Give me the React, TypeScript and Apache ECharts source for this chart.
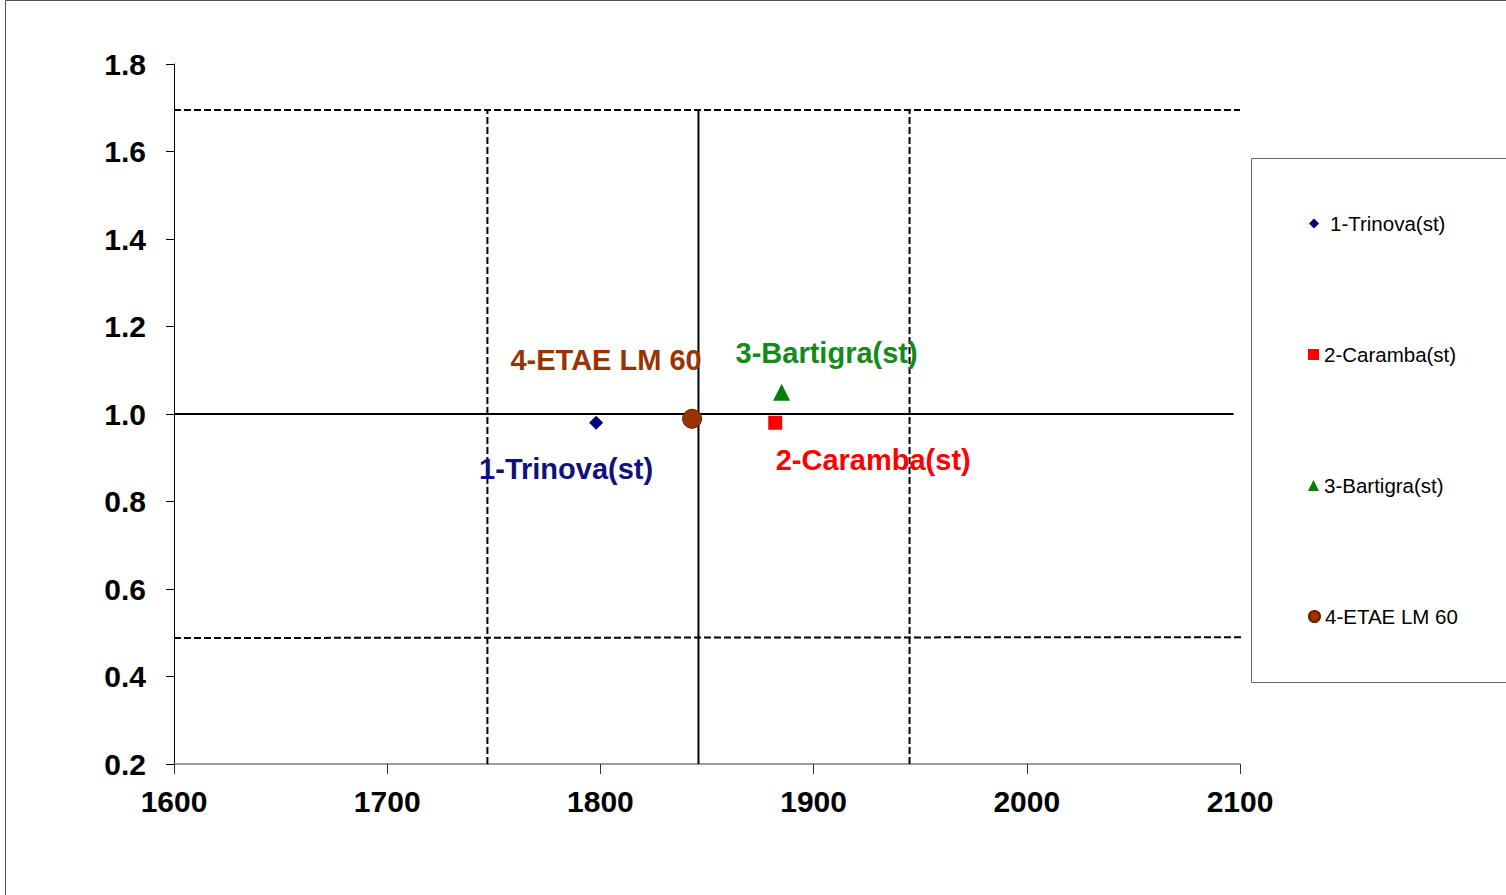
import React, { useEffect, useRef } from "react";
import * as echarts from "echarts";

const seriesNames = ["1-Trinova(st)", "2-Caramba(st)", "3-Bartigra(st)", "4-ETAE LM 60"];
const seriesX = [1798, 1882, 1885, 1843];
const seriesY = [0.98, 0.98, 1.05, 0.989];
const seriesColors = ["#000080", "#FF0000", "#008000", "#993300"];
const labelColors = ["#101080", "#FF0000", "#138a1a", "#993300"];
const seriesSymbols = ["diamond", "rect", "triangle", "circle"];

const xTicks = { min: 1600, max: 2100, interval: 100 };
const yTicks = { min: 0.2, max: 1.8, interval: 0.2 };

// reference lines: [x1, y1, x2, y2]
const refSolidH = [1600, 1.0, 2097, 1.0];
const refUpperH = [1600, 1.695, 2100, 1.695];
const refLowerH = [1600, 0.488, 2102, 0.49];
const refMeanV = [1846, 0.2, 1846, 1.695];
const refLeftV = [1747, 0.2, 1747, 1.695];
const refRightV = [1945, 0.2, 1945, 1.695];

export default function App() {
  const ref = useRef<HTMLDivElement>(null);
  useEffect(() => {
    document.body.style.margin = "0";
    document.body.style.overflow = "hidden";
    const chart = echarts.init(ref.current!, null, { renderer: "svg" });
    const font = "'Liberation Sans', Arial, sans-serif";
    const symbolSizes = [14, 14, 17, 19];
    const labelOffsets = [
      [-30, 46],
      [98, 37],
      [45, -39],
      [-86, -59],
    ];
    const pointSeries = seriesNames.map((name, i) => ({
      type: "scatter",
      name,
      symbol: seriesSymbols[i],
      symbolSize: symbolSizes[i],
      itemStyle: {
        color: seriesColors[i],
        opacity: 1,
        borderColor: i === 3 ? "#6b1d00" : seriesColors[i],
        borderWidth: i === 3 ? 1 : 0,
      },
      label: {
        show: true,
        position: "inside",
        formatter: name,
        offset: labelOffsets[i],
        color: labelColors[i],
        opacity: 1,
        fontFamily: font,
        fontWeight: "bold",
        fontSize: 29,
      },
      data: [[seriesX[i], seriesY[i]]],
      z: 5,
    }));
    const mkLine = (pts: number[], dashed: boolean) => ({
      type: "line",
      symbol: "none",
      silent: true,
      clip: false,
      lineStyle: { color: "#000", width: 2, type: dashed ? [7, 3] : "solid" },
      data: [
        [pts[0], pts[1]],
        [pts[2], pts[3]],
      ],
      z: 2,
    });
    const legendCenters = [224, 355, 486, 617];
    const legends = seriesNames.map((name, i) => ({
      data: [{ name, icon: seriesSymbols[i], itemStyle: { opacity: 1 } }],
      left: i === 0 ? 1309 : 1308,
      top: legendCenters[i] - 11,
      padding: 0,
      itemWidth: i === 0 ? 10 : 11,
      itemHeight: i === 0 ? 10 : 11,
      selectedMode: false,
      textStyle: {
        fontFamily: font,
        fontSize: 20.5,
        lineHeight: 20,
        color: "#000",
        padding: i === 0 ? [0, 0, 0, 6] : 0,
      },
    }));
    chart.setOption({
      animation: false,
      backgroundColor: "#fff",
      grid: { left: 174, top: 64, width: 1066, height: 700, containLabel: false },
      xAxis: {
        type: "value",
        min: xTicks.min,
        max: xTicks.max,
        interval: xTicks.interval,
        axisLine: { show: true, onZero: false, lineStyle: { color: "#7a7a7a", width: 1.5 } },
        axisTick: { show: true, length: 10, lineStyle: { color: "#333", width: 1 } },
        splitLine: { show: false },
        axisLabel: {
          margin: 22,
          color: "#000",
          fontFamily: font,
          fontWeight: "bold",
          fontSize: 30,
          formatter: (v: number) => String(v),
        },
      },
      yAxis: {
        type: "value",
        min: yTicks.min,
        max: yTicks.max,
        interval: yTicks.interval,
        axisLine: { show: true, onZero: false, lineStyle: { color: "#000", width: 1 } },
        axisTick: { show: true, length: 8, lineStyle: { color: "#000", width: 1 } },
        splitLine: { show: false },
        axisLabel: {
          margin: 28,
          color: "#000",
          fontFamily: font,
          fontWeight: "bold",
          fontSize: 30,
          padding: [0, 0, 6, 0],
          formatter: (v: number) => v.toFixed(1),
        },
      },
      legend: legends,
      graphic: [
        {
          type: "rect",
          shape: { x: 5.5, y: 0.5, width: 1600, height: 1000 },
          style: { fill: "none", stroke: "#555", lineWidth: 1 },
          silent: true,
        },
        {
          type: "rect",
          shape: { x: 1251.5, y: 158.5, width: 400, height: 524 },
          style: { fill: "none", stroke: "#666", lineWidth: 1 },
          silent: true,
        },
      ],
      series: [
        mkLine(refSolidH, false),
        mkLine(refUpperH, true),
        mkLine(refLowerH, true),
        mkLine(refMeanV, false),
        mkLine(refLeftV, true),
        mkLine(refRightV, true),
        ...pointSeries,
      ],
    });
    return () => chart.dispose();
  }, []);
  return <div ref={ref} style={{ width: 1506, height: 895 }} />;
}
